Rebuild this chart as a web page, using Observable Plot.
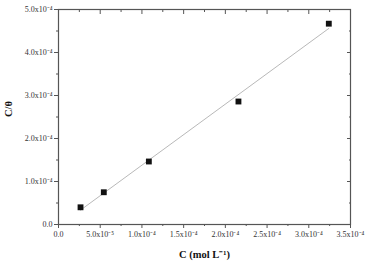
<!DOCTYPE html>
<html><head><meta charset="utf-8">
<script src="https://cdn.jsdelivr.net/npm/d3@7"></script>
<script src="https://cdn.jsdelivr.net/npm/@observablehq/plot@0.6"></script>
<style>body{margin:0;background:#fff}</style>
</head><body><div id="chart"></div>
<script>
const concC = [2.64e-5, 5.43e-5, 1.083e-4, 2.157e-4, 3.24e-4];
const cTheta = [4.0e-5, 7.5e-5, 1.465e-4, 2.86e-4, 4.67e-4];
const xMajor = [0, 5e-5, 1e-4, 1.5e-4, 2e-4, 2.5e-4, 3e-4, 3.5e-4];
const xLabels = ["0.0", "5.0x10⁻⁵", "1.0x10⁻⁴", "1.5x10⁻⁴", "2.0x10⁻⁴", "2.5x10⁻⁴", "3.0x10⁻⁴", "3.5x10⁻⁴"];
const xMinor = [2.5e-5, 7.5e-5, 1.25e-4, 1.75e-4, 2.25e-4, 2.75e-4, 3.25e-4];
const yMajor = [0, 1e-4, 2e-4, 3e-4, 4e-4, 5e-4];
const yLabels = ["0.0", "1.0x10⁻⁴", "2.0x10⁻⁴", "3.0x10⁻⁴", "4.0x10⁻⁴", "5.0x10⁻⁴"];
const yMinor = [5e-5, 1.5e-4, 2.5e-4, 3.5e-4, 4.5e-4];
const xTitle = "C (mol L⁻¹)";
const yTitle = "C/θ";

const pts = concC.map((c, i) => ({c, v: cTheta[i]}));
const xFmt = d => xLabels[xMajor.findIndex(t => Math.abs(t - d) < 1e-9)];
const yFmt = d => yLabels[yMajor.findIndex(t => Math.abs(t - d) < 1e-9)];
const blank = () => "";
const axCol = "#555";

const chart = Plot.plot({
  width: 369, height: 265,
  marginLeft: 58, marginRight: 19, marginTop: 9, marginBottom: 41,
  x: {domain: [0, 3.5e-4]},
  y: {domain: [0, 5e-4]},
  style: {fontFamily: "Liberation Serif", fontSize: "8px", color: "#333", background: "#fff"},
  marks: [
    Plot.axisX({ticks: xMajor, tickFormat: xFmt, tickSize: 4, tickPadding: 3, label: null, stroke: axCol}),
    Plot.axisX({ticks: xMinor, tickFormat: blank, tickSize: 2, label: null, stroke: axCol}),
    Plot.axisX({anchor: "top", ticks: xMajor, tickFormat: blank, tickSize: 4, dy: 4, label: null, stroke: axCol}),
    Plot.axisX({anchor: "top", ticks: xMinor, tickFormat: blank, tickSize: 2, dy: 2, label: null, stroke: axCol}),
    Plot.axisY({ticks: yMajor, tickFormat: yFmt, tickSize: 4, tickPadding: 2, label: null, stroke: axCol}),
    Plot.axisY({ticks: yMinor, tickFormat: blank, tickSize: 2, label: null, stroke: axCol}),
    Plot.axisY({anchor: "right", ticks: yMajor, tickFormat: blank, tickSize: 4, dx: -4, label: null, stroke: axCol}),
    Plot.axisY({anchor: "right", ticks: yMinor, tickFormat: blank, tickSize: 2, dx: -2, label: null, stroke: axCol}),
    Plot.frame({stroke: axCol, strokeWidth: 1.2}),
    Plot.linearRegressionY(pts, {x: "c", y: "v", ci: 0, stroke: "#b0b0b0", strokeWidth: 0.9}),
    Plot.dot(pts, {x: "c", y: "v", symbol: "square", r: 3.3, fill: "#111", stroke: "none"}),
    Plot.text([xTitle], {frameAnchor: "bottom", dy: 33, fontWeight: "bold", fontSize: 10.5, fill: "#111"}),
    Plot.text([yTitle], {frameAnchor: "left", dx: -50, rotate: -90, fontWeight: "bold", fontSize: 10.5, fill: "#111"})
  ]
});
document.getElementById("chart").append(chart);
</script>
</body></html>
